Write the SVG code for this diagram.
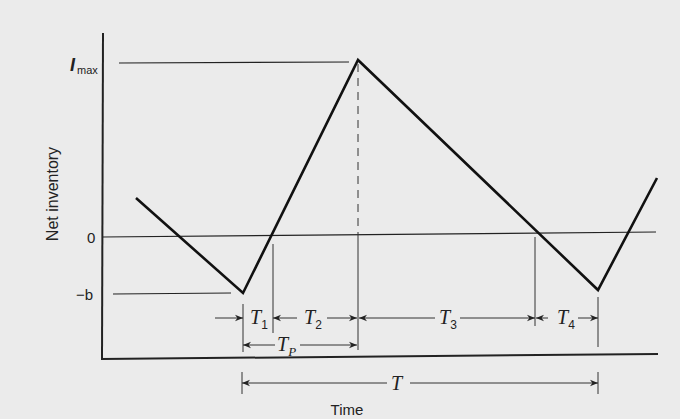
<svg xmlns="http://www.w3.org/2000/svg" width="680" height="419" viewBox="0 0 680 419">
<style>
.ax{stroke:#222;stroke-width:2;fill:none}
.thin{stroke:#222;stroke-width:1.2;fill:none}
.curve{stroke:#111;stroke-width:2.6;fill:none;stroke-linejoin:miter}
.dim{stroke:#333;stroke-width:1;fill:none}
.lbl{font-family:"Liberation Sans",Arial,sans-serif;fill:#222}
.it{font-family:"Liberation Serif","Times New Roman",serif;font-style:italic;fill:#222}
.sub{font-family:"Liberation Sans",Arial,sans-serif;font-style:normal}
</style>
<defs>
<marker id="ah" viewBox="0 0 10 10" refX="10" refY="5" markerWidth="10" markerHeight="8" orient="auto-start-reverse" markerUnits="userSpaceOnUse">
<path d="M0,1 L10,5 L0,9 L3,5 Z" fill="#222"/>
</marker>
</defs>
<rect width="680" height="419" fill="#ebebeb"/>
<g id="axes">
<line class="ax" x1="103" y1="33" x2="102" y2="359"/>
<line class="ax" x1="101" y1="359" x2="658" y2="354"/>
<line class="thin" x1="102" y1="237" x2="656" y2="232"/>
<line class="thin" x1="119" y1="63" x2="349" y2="62"/>
<line class="thin" x1="113" y1="294" x2="231" y2="293"/>
</g>
<g id="labels">
<text class="lbl" x="58" y="194" font-size="16" text-anchor="middle" transform="rotate(-90 58 194)">Net inventory</text>
<text class="lbl" x="70" y="71" font-size="18" font-weight="bold" font-style="italic">I</text>
<text class="lbl" x="77" y="74" font-size="11">max</text>
<text class="lbl" x="87" y="243" font-size="15">0</text>
<text class="lbl" x="76" y="300" font-size="15">−b</text>
<text class="lbl" x="347" y="415" font-size="15" text-anchor="middle">Time</text>
</g>
<g id="inventory-curve">
<polyline class="curve" points="136,198 243,293 358,60 598,290 657,178"/>
</g>
<g id="guides">
<line class="dim" x1="358" y1="64" x2="358" y2="236" stroke-dasharray="8,6"/>
<line class="dim" x1="358" y1="236" x2="358" y2="350"/>
<line class="dim" x1="243" y1="304" x2="243" y2="352"/>
<line class="dim" x1="273" y1="244" x2="273" y2="333"/>
<line class="dim" x1="535" y1="237" x2="535" y2="326"/>
<line class="dim" x1="598" y1="297" x2="598" y2="347"/>
<line class="dim" x1="242" y1="372" x2="242" y2="394"/>
<line class="dim" x1="598" y1="372" x2="598" y2="394"/>
</g>
<g id="connectors">
<line class="dim" x1="215" y1="318" x2="243" y2="318" marker-end="url(#ah)"/>
<line class="dim" x1="297" y1="318" x2="273" y2="318" marker-end="url(#ah)"/>
<line class="dim" x1="327" y1="318" x2="357" y2="318" marker-end="url(#ah)"/>
<line class="dim" x1="435" y1="318" x2="359" y2="318" marker-end="url(#ah)"/>
<line class="dim" x1="460" y1="318" x2="535" y2="318" marker-end="url(#ah)"/>
<line class="dim" x1="548" y1="318" x2="536" y2="318" marker-end="url(#ah)"/>
<line class="dim" x1="578" y1="318" x2="598" y2="318" marker-end="url(#ah)"/>
<line class="dim" x1="275" y1="345" x2="243" y2="345" marker-end="url(#ah)"/>
<line class="dim" x1="300" y1="345" x2="357" y2="345" marker-end="url(#ah)"/>
<line class="dim" x1="387" y1="383" x2="242" y2="383" marker-end="url(#ah)"/>
<line class="dim" x1="410" y1="383" x2="598" y2="383" marker-end="url(#ah)"/>
</g>
<g id="interval-labels">
<text class="it" x="250" y="324" font-size="20">T<tspan class="sub" font-size="12" dy="5">1</tspan></text>
<text class="it" x="304" y="324" font-size="20">T<tspan class="sub" font-size="12" dy="5">2</tspan></text>
<text class="it" x="439" y="324" font-size="20">T<tspan class="sub" font-size="12" dy="5">3</tspan></text>
<text class="it" x="557" y="324" font-size="20">T<tspan class="sub" font-size="12" dy="5">4</tspan></text>
<text class="it" x="277" y="351" font-size="20">T<tspan font-size="13" dy="5">P</tspan></text>
<text class="it" x="391" y="390" font-size="20">T</text>
</g>
</svg>
